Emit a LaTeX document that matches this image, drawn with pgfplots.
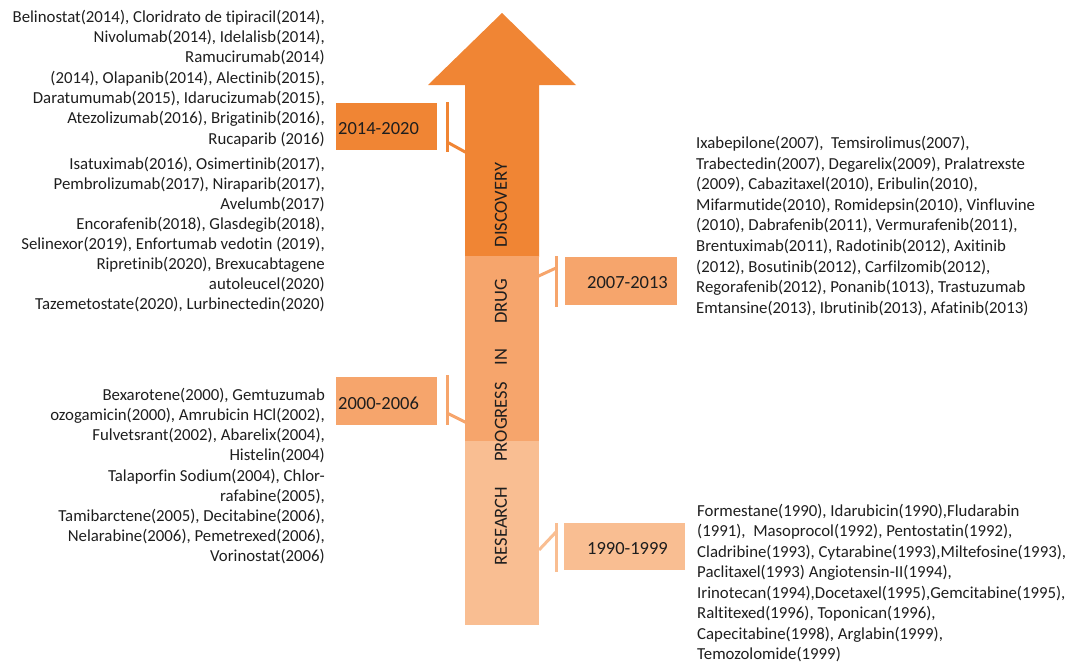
\documentclass[border=0pt]{standalone}
\usepackage{pgfplots}
\pgfplotsset{compat=1.18}
\usepackage{fontspec}
\setmainfont{Carlito}[Ligatures={NoCommon,NoRare}]
\definecolor{darkor}{RGB}{240,133,52}
\definecolor{midor}{RGB}{246,165,108}
\definecolor{lightor}{RGB}{249,190,146}
\definecolor{txt}{RGB}{30,30,30}
\newcommand{\txtfont}{\fontsize{16.8}{20}\selectfont}
\newcommand{\LeftLine}[2]{\node[anchor=base east,inner sep=0,font=\txtfont,text=txt] at (axis cs:325,#1) {#2};}
\newcommand{\RightLine}[3]{\node[anchor=base west,inner sep=0,font=\txtfont,text=txt] at (axis cs:#1,#2) {#3};}
\begin{document}
\begin{tikzpicture}
\begin{axis}[width=1069pt,height=664pt,scale only axis,
  xmin=0,xmax=1069,ymin=0,ymax=664,y dir=reverse,
  hide axis,clip=false]
% arrow segments
\addplot[fill=darkor,draw=none] coordinates {(465,257) (465,85) (428,85) (502,13) (576,85) (539,85) (539,257)} --cycle;
\addplot[fill=midor,draw=none] coordinates {(465,256) (539,256) (539,441) (465,441)} --cycle;
\addplot[fill=lightor,draw=none] coordinates {(465,441) (539,441) (539,625) (465,625)} --cycle;
% boxes
\addplot[fill=darkor,draw=none] coordinates {(336,103) (437,103) (437,150) (336,150)} --cycle;
\addplot[fill=midor,draw=none] coordinates {(565,257) (677,257) (677,305) (565,305)} --cycle;
\addplot[fill=midor,draw=none] coordinates {(336,377) (437,377) (437,425) (336,425)} --cycle;
\addplot[fill=lightor,draw=none] coordinates {(564,523) (685,523) (685,570) (564,570)} --cycle;
% connectors
\addplot[darkor,line width=3pt] coordinates {(447,102) (447,152)};
\addplot[darkor,line width=3pt] coordinates {(447,142) (467,153)};
\addplot[midor,line width=3pt] coordinates {(556,256) (556,307)};
\addplot[midor,line width=3pt] coordinates {(556,268) (530,280)};
\addplot[midor,line width=3pt] coordinates {(447,375) (447,425)};
\addplot[midor,line width=3pt] coordinates {(447,413) (467,423)};
\addplot[lightor,line width=3pt] coordinates {(556,523) (556,572)};
\addplot[lightor,line width=3pt] coordinates {(556,532) (539,550)};
% box labels
\node[anchor=west,inner sep=0,font=\fontsize{18.5}{20}\selectfont,text=txt] at (axis cs:338,129) {2014-2020};
\node[anchor=west,inner sep=0,font=\fontsize{18.5}{20}\selectfont,text=txt] at (axis cs:338,403) {2000-2006};
\node[anchor=east,inner sep=0,font=\fontsize{18.5}{20}\selectfont,text=txt] at (axis cs:668,283) {2007-2013};
\node[anchor=east,inner sep=0,font=\fontsize{18.5}{20}\selectfont,text=txt] at (axis cs:668,549) {1990-1999};
% vertical words
\node[rotate=90,inner sep=0,font=\fontsize{18.5}{20}\selectfont,text=txt] at (axis cs:501,526) {RESEARCH};
\node[rotate=90,inner sep=0,font=\fontsize{18.5}{20}\selectfont,text=txt] at (axis cs:501,422) {PROGRESS};
\node[rotate=90,inner sep=0,font=\fontsize{18.5}{20}\selectfont,text=txt] at (axis cs:501,357) {IN};
\node[rotate=90,inner sep=0,font=\fontsize{18.5}{20}\selectfont,text=txt] at (axis cs:501,301) {DRUG};
\node[rotate=90,inner sep=0,font=\fontsize{18.5}{20}\selectfont,text=txt] at (axis cs:501,205) {DISCOVERY};
% left top block
\LeftLine{22}{Belinostat(2014), Cloridrato de tipiracil(2014),}
\LeftLine{42}{Nivolumab(2014), Idelalisb(2014),}
\LeftLine{62}{Ramucirumab(2014)}
\LeftLine{83}{(2014), Olapanib(2014), Alectinib(2015),}
\LeftLine{103}{Daratumumab(2015), Idarucizumab(2015),}
\LeftLine{123}{Atezolizumab(2016), Brigatinib(2016),}
\LeftLine{144}{Rucaparib (2016)}
\LeftLine{169}{Isatuximab(2016), Osimertinib(2017),}
\LeftLine{189}{Pembrolizumab(2017), Niraparib(2017),}
\LeftLine{209}{Avelumb(2017)}
\LeftLine{229}{Encorafenib(2018), Glasdegib(2018),}
\LeftLine{249}{Selinexor(2019), Enfortumab vedotin (2019),}
\LeftLine{269}{Ripretinib(2020), Brexucabtagene}
\LeftLine{289}{autoleucel(2020)}
\LeftLine{309}{Tazemetostate(2020), Lurbinectedin(2020)}
% left bottom block
\LeftLine{400}{Bexarotene(2000), Gemtuzumab}
\LeftLine{420}{ozogamicin(2000), Amrubicin HCl(2002),}
\LeftLine{440}{Fulvetsrant(2002), Abarelix(2004),}
\LeftLine{460}{Histelin(2004)}
\LeftLine{481}{Talaporfin Sodium(2004), Chlor-}
\LeftLine{501}{rafabine(2005),}
\LeftLine{521}{Tamibarctene(2005), Decitabine(2006),}
\LeftLine{541}{Nelarabine(2006), Pemetrexed(2006),}
\LeftLine{561}{Vorinostat(2006)}
% right top block
\RightLine{696}{148}{Ixabepilone(2007),\ \ Temsirolimus(2007),}
\RightLine{696}{169}{Trabectedin(2007), Degarelix(2009), Pralatrexste}
\RightLine{696}{189}{(2009), Cabazitaxel(2010), Eribulin(2010),}
\RightLine{696}{210}{Mifarmutide(2010), Romidepsin(2010), Vinfluvine}
\RightLine{696}{230}{(2010), Dabrafenib(2011), Vermurafenib(2011),}
\RightLine{696}{251}{Brentuximab(2011), Radotinib(2012), Axitinib}
\RightLine{696}{272}{(2012), Bosutinib(2012), Carfilzomib(2012),}
\RightLine{696}{292}{Regorafenib(2012), Ponanib(1013), Trastuzumab}
\RightLine{696}{313}{Emtansine(2013), Ibrutinib(2013), Afatinib(2013)}
% right bottom block
\RightLine{697}{516}{Formestane(1990), Idarubicin(1990),Fludarabin}
\RightLine{697}{536}{(1991),\ \ Masoprocol(1992), Pentostatin(1992),}
\RightLine{697}{557}{Cladribine(1993), Cytarabine(1993),Miltefosine(1993),}
\RightLine{697}{577}{Paclitaxel(1993) Angiotensin-II(1994),}
\RightLine{697}{598}{Irinotecan(1994),Docetaxel(1995),Gemcitabine(1995),}
\RightLine{697}{618}{Raltitexed(1996), Toponican(1996),}
\RightLine{697}{639}{Capecitabine(1998), Arglabin(1999),}
\RightLine{697}{659}{Temozolomide(1999)}
\end{axis}
\pgfresetboundingbox
\path[use as bounding box] (current axis.south west) rectangle (current axis.north east);
\end{tikzpicture}
\end{document}
